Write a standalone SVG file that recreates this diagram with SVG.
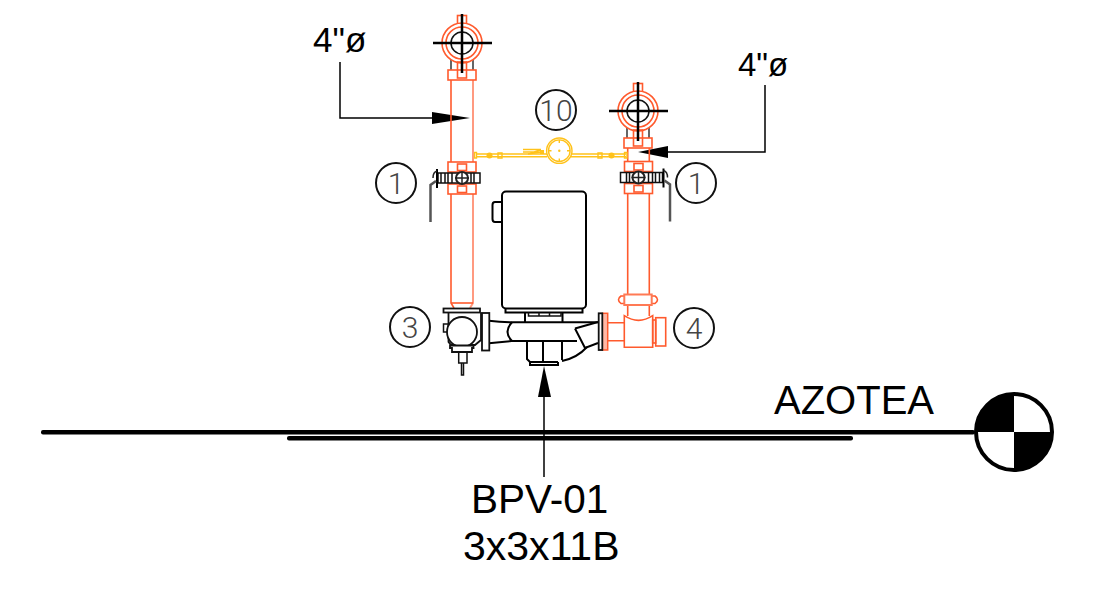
<svg xmlns="http://www.w3.org/2000/svg" width="1108" height="601" viewBox="0 0 1108 601">
<style>
.r{fill:none;stroke:#ff5a2d;stroke-width:1.6}
.rl{fill:none;stroke:#ff9a80;stroke-width:2}
.rw{fill:#fff;stroke:#ff5a2d;stroke-width:1.6}
.k{fill:none;stroke:#111;stroke-width:1.5}
.kw{fill:#fff;stroke:#111;stroke-width:1.8}
.kt{fill:none;stroke:#000;stroke-width:2}
.y{fill:none;stroke:#ffc21a;stroke-width:1.4}
.c{fill:#fff;stroke:#111;stroke-width:2}
.n{font-family:"Roboto","Liberation Sans",sans-serif;font-size:30px;font-weight:300;fill:#444;text-anchor:middle}
.t{font-family:"Liberation Sans",Arial,sans-serif;fill:#000}
.a{fill:#000;stroke:none}
.g{fill:none;stroke:#666;stroke-width:2}
.l{fill:none;stroke:#000;stroke-width:1.5}
</style>
<defs>
<g id="topvalve">
<path class="g" d="M-11 16V27M11 16V27"/>
<rect class="r" x="-4.500" y="-27.500" width="9" height="9"/>
<circle class="rw" r="20"/><circle class="r" r="16"/><circle class="k" r="11" stroke-width="1.800"/>
<rect class="rw" x="-14" y="27" width="28" height="10"/>
<rect class="r" x="-4.500" y="19" width="9" height="16"/>
<path fill="none" stroke="#000" stroke-width="2.500" d="M-29 0H30M0 -29V30"/>
</g>
<g id="ballvalve">
<rect class="rw" x="-14" y="0" width="28" height="10"/>
<rect class="r" x="-4.500" y="2" width="9" height="6.500"/>
<rect class="rw" x="-14" y="22" width="28" height="10"/>
<rect class="r" x="-4.500" y="24" width="9" height="6.500"/>
<rect x="-24" y="11" width="42" height="10" fill="#fff" stroke="#111" stroke-width="1.500"/>
<path class="k" d="M-21 11V21M-17 11V21M-14 11V21M-10 11V21M9 11V21M12 11V21"/>
<circle cx="0" cy="16" r="6" fill="#fff" stroke="#222" stroke-width="2"/>
<path fill="none" stroke="#222" stroke-width="1.500" d="M-7 16H7M0 10V22"/>
<path fill="none" stroke="#000" stroke-width="2" d="M-25 7V26"/>
<path fill="none" stroke="#222" stroke-width="1.500" d="M-25 9Q-29 10 -29 16"/>
<path fill="none" stroke="#555" stroke-width="2.500" d="M-26 19L-31.500 23V60"/>
</g>
</defs>

<g id="connectors">
<path class="l" d="M340 62V118H434"/>
<path class="a" d="M432 112L470 118L432 124Z"/>
<path class="l" d="M765 85V152H668"/>
<path class="a" d="M668 146L638 152L668 158Z"/>
<path class="l" d="M544 477V395"/>
<path class="a" d="M538 397L544 366L551 397Z"/>
</g>

<g id="pipe-left">
<path class="r" d="M451 80V303L454 308"/>
<path class="rl" d="M473 80V303L470 308"/>
<path class="r" d="M451 303H473"/>
</g>
<g id="pipe-right">
<path class="r" d="M627.700 148V316M649.300 148V316"/>
</g>
<g id="gauge">
<path class="y" d="M476 154H547M476 156.700H547M571 154H626M571 156.700H626"/>
<path class="y" d="M523 149.500H541M523 152H534L541 150M528 154L541 152"/>
<rect x="540" y="150" width="4" height="4" fill="#ffc21a"/>
<circle cx="489.500" cy="155.500" r="3" fill="#ffc21a"/>
<circle cx="611.500" cy="155.500" r="3" fill="#ffc21a"/>
<path class="y" d="M474.500 152.500V158H476.500V152.500ZM498 153V158H502V153ZM598 153V158H602V153ZM624.500 152.500V158H627V152.500Z"/>
<circle cx="559.300" cy="150.700" r="12.700" fill="#fff" stroke="#ffc21a" stroke-width="1.400"/>
<circle class="y" cx="559.300" cy="150.700" r="10.800"/>
<path class="y" stroke-width="1" d="M559.300 140V143M559.300 158.500V161.500M548.500 150.700H551.500M567 150.700H570"/>
<circle cx="559.300" cy="150.700" r="1.200" fill="#ffc21a"/>
</g>
<g id="valve-top-left"><use href="#topvalve" transform="translate(462 43)"/></g>
<g id="valve-top-right"><use href="#topvalve" transform="translate(638 111)"/></g>
<g id="ball-valve-left"><use href="#ballvalve" transform="translate(462 162)"/></g>
<g id="ball-valve-right"><use href="#ballvalve" transform="translate(638.500 161.500) scale(-1 1)"/></g>
<g id="pump">
<path class="kt" d="M502 202H495Q492.500 202 492.500 205V219Q492.500 222 495 222H502"/>
<rect class="kt" x="502" y="191.500" width="84" height="117" rx="4" fill="#fff"/>
<path class="kt" d="M505.500 308V312.500H582.500V308"/>
<path class="kt" d="M525 312.500V322M562.500 312.500V322"/>
<path class="k" d="M528.500 312.500V316H561V312.500M539 312.500V316M549.500 312.500V316"/>
<path class="kt" d="M489 320.700Q500 322 511.500 322.300H598M489 343.300Q500 342 511.500 341H577"/>
<path class="kt" d="M512 322.300Q503 332 512 341"/>
<path class="kt" d="M575 328.500L598 322M575 328.500L585 348L598 343"/>
<path class="kt" d="M527 341V359L530 362H558M543 341V361.500M562 341V360M530 362V365H558V362"/>
<path class="kt" d="M562 361Q577 358 587 347"/>
</g>
<g id="check-valve-3">
<rect class="kw" x="443.500" y="308.500" width="36.500" height="4"/>
<path fill="none" stroke="#111" stroke-width="1.800" d="M448.500 312.500V342L451 345H475L481 340V312.500"/>
<rect class="k" x="443.500" y="324" width="5" height="8"/>
<rect class="kw" x="482" y="313" width="7.300" height="37.500"/>
<circle class="kw" cx="462" cy="332" r="15"/>
<path fill="#fff" stroke="#111" stroke-width="1.800" d="M450 345.500H473.500V348H472V352H452V348H450Z"/>
<path class="k" d="M458.700 352V363H467V352M461.500 363V375H463.500V363"/>
</g>
<g id="check-valve-4">
<rect x="602.300" y="313.300" width="5.400" height="36.700" fill="#ffb8a5" stroke="#ff5a2d" stroke-width="1.500"/>
<rect class="kw" x="598.700" y="313.300" width="3.600" height="36.700"/>
<path class="r" d="M607.700 322.700H624.300M607.700 340.700H624.300"/>
<path class="rw" d="M624.300 315.700Q638.500 325 652.700 315.700V347.300H624.300Z"/>
<rect class="r" x="652.700" y="320" width="3" height="23"/>
<rect class="r" x="655.700" y="317.700" width="10" height="28.300"/>
<path class="r" d="M624.300 296H621Q616 299.500 621 303.500H624.300M651.700 296H655Q660 299.500 655 303.500H651.700"/>
<rect x="624.300" y="294.500" width="27.400" height="10.500" fill="#fff" stroke="#ff7a55" stroke-width="2"/>
</g>
<g id="level-line">
<rect x="41" y="430" width="934" height="4.500" rx="2" fill="#000"/>
<rect x="287" y="436" width="566" height="4.500" rx="2" fill="#000"/>
</g>
<g id="level-mark">
<circle cx="1014" cy="432" r="38" fill="#fff" stroke="#000" stroke-width="4"/>
<path class="a" d="M1014 432V394A38 38 0 0 0 976 432ZM1014 432H1052A38 38 0 0 1 1014 470Z"/>
</g>
<g id="tag-1a"><circle class="c" cx="396" cy="183" r="20"/><text class="n" x="396" y="194">1</text></g>
<g id="tag-1b"><circle class="c" cx="696" cy="183" r="20"/><text class="n" x="696" y="194">1</text></g>
<g id="tag-10"><circle class="c" cx="556" cy="110" r="20"/><text class="n" x="556" y="121">10</text></g>
<g id="tag-3"><circle class="c" cx="410" cy="327" r="20"/><text class="n" x="410" y="338">3</text></g>
<g id="tag-4"><circle class="c" cx="694" cy="328" r="20"/><text class="n" x="694" y="339">4</text></g>
<g id="labels">
<text class="t" x="313" y="52" font-size="35">4"ø</text>
<text class="t" x="738" y="76" font-size="33">4"ø</text>
<text class="t" x="774" y="414" font-size="40">AZOTEA</text>
<text class="t" x="471" y="513" font-size="40.500">BPV-01</text>
<text class="t" x="463" y="560" font-size="41">3x3x11B</text>
</g>
</svg>
